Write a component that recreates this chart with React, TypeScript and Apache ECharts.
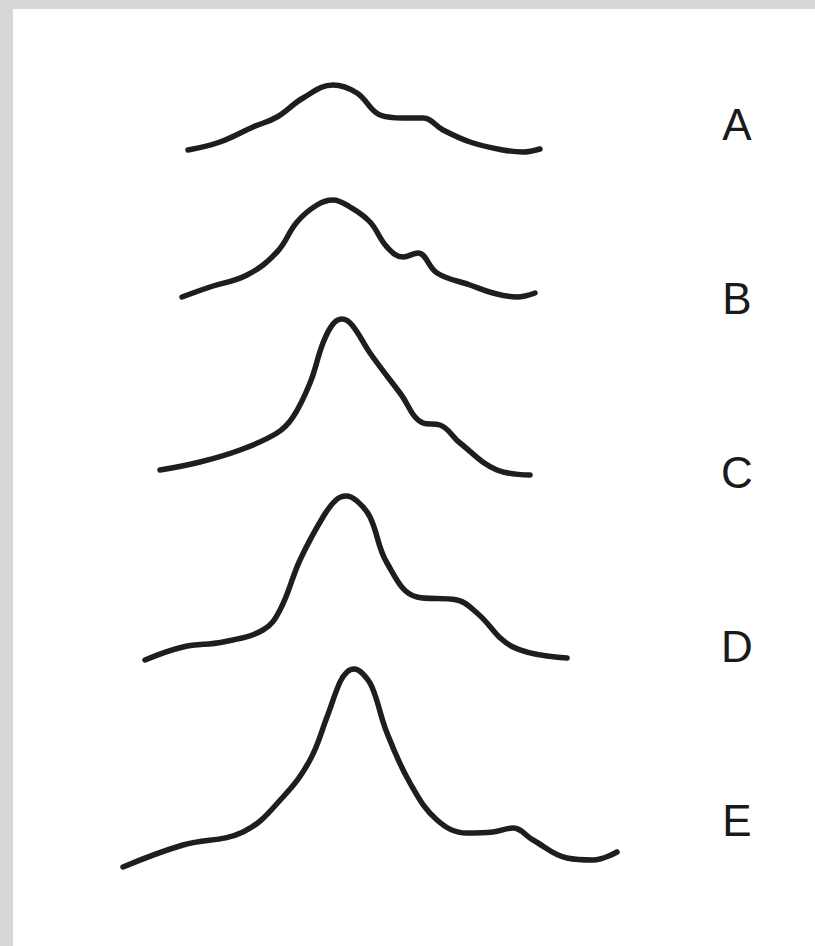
import React, { useEffect, useRef } from "react";
import * as echarts from "echarts";

const labels = ["A", "B", "C", "D", "E"];
const offsets = [791, 646, 468, 284, 76];

const posA = [188, 220, 253, 277, 303, 333, 357, 380, 403, 423, 443, 470, 503, 523, 540];
const valA = [5, 13, 28, 38, 57, 70, 62, 40, 37, 37, 25, 13, 5, 3, 6];

const posB = [182, 210, 247, 277, 297, 317, 333, 350, 370, 387, 403, 418, 437, 470, 493, 517, 535];
const valB = [3, 13, 25, 48, 78, 95, 100, 93, 78, 53, 43, 47, 27, 15, 7, 3, 7];

const posC = [160, 200, 240, 277, 293, 310, 323, 333, 342, 352, 370, 400, 423, 440, 460, 497, 530];
const valC = [8, 16, 28, 45, 61, 95, 135, 154, 159, 153, 125, 85, 55, 53, 35, 8, 3];

const posD = [145, 183, 223, 263, 280, 300, 323, 336, 346, 357, 370, 387, 417, 457, 477, 513, 567];
const valD = [2, 15, 20, 32, 52, 102, 145, 162, 166, 161, 145, 99, 65, 62, 49, 15, 4];

const posE = [123, 183, 243, 283, 310, 327, 340, 347, 354, 362, 372, 387, 410, 437, 467, 493, 513, 533, 567, 593, 617];
const valE = [3, 25, 38, 73, 110, 153, 188, 198, 201, 197, 183, 137, 87, 50, 37, 38, 42, 30, 12, 10, 18];

const positions = [posA, posB, posC, posD, posE];
const values = [valA, valB, valC, valD, valE];

export default function App() {
  const ref = useRef<HTMLDivElement>(null);
  useEffect(() => {
    if (!ref.current) return;
    const chart = echarts.init(ref.current, null, { renderer: "svg" });
    const series = labels.map((name, i) => ({
      name,
      type: "line",
      data: positions[i].map((x, j) => [x, offsets[i] + values[i][j]]),
      smooth: 0.4,
      showSymbol: false,
      lineStyle: { color: "#1e1e1e", width: 5.5, cap: "round", join: "round" },
    }));
    chart.setOption({
      animation: false,
      backgroundColor: "#ffffff",
      grid: { left: 0, right: 0, top: 0, bottom: 0 },
      xAxis: { type: "value", min: 0, max: 815, show: false },
      yAxis: { type: "value", min: 0, max: 946, show: false },
      series,
      graphic: [
        { type: "rect", shape: { x: 0, y: 0, width: 815, height: 9 }, style: { fill: "#d8d8d8" }, silent: true },
        { type: "rect", shape: { x: 0, y: 0, width: 13, height: 946 }, style: { fill: "#d8d8d8" }, silent: true },
        ...labels.map((t, i) => ({
          type: "text",
          x: 737,
          y: 124 + i * 174,
          style: {
            text: t,
            fontSize: 44,
            fontFamily: "Liberation Sans, Arial, sans-serif",
            fill: "#1a1a1a",
            align: "center",
            verticalAlign: "middle",
          },
        })),
      ],
    });
    return () => chart.dispose();
  }, []);
  return (
    <div
      ref={ref}
      style={{ position: "absolute", left: 0, top: 0, width: 815, height: 946 }}
    />
  );
}
